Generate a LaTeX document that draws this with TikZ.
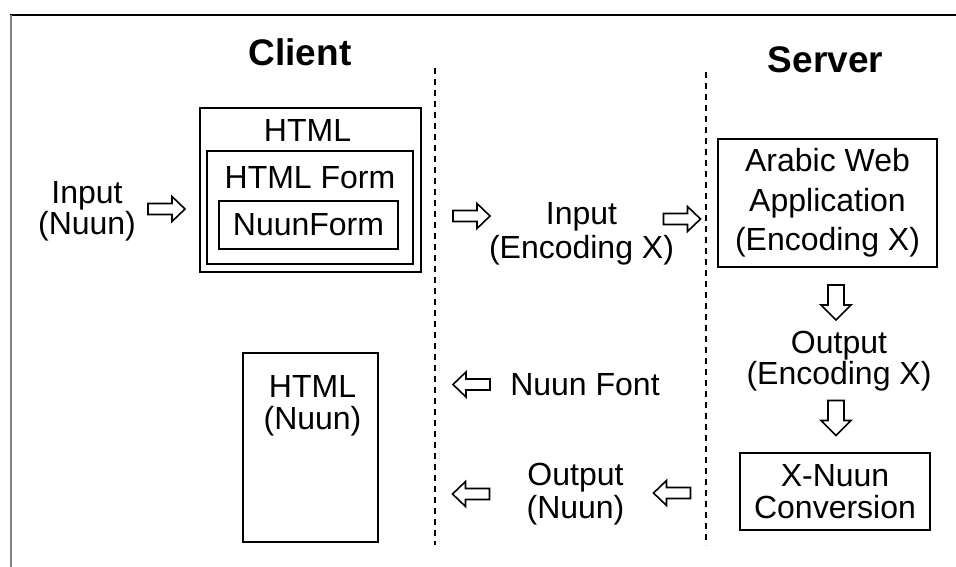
\documentclass[tikz,border=0pt]{standalone}
\usepackage{fontspec}
\setmainfont{Liberation Sans}
\usetikzlibrary{positioning}
\tikzset{
	box/.style={draw, line width=1.6pt, inner sep=0pt, align=center},
	lbl/.style={align=center, font=\fontsize{32}{33.5}\selectfont},
	heading/.style={font=\fontsize{37}{40}\selectfont\bfseries},
	divider/.style={line width=1.4pt, dash pattern=on 6pt off 5pt},
	harrow/.pic={\draw[line width=1.6pt, line join=miter] (-18.5,-5.5) -- (5.5,-5.5) -- (5.5,-12.5) -- (18.5,0) -- (5.5,12.5) -- (5.5,5.5) -- (-18.5,5.5) -- cycle;},
	varrow/.pic={\draw[line width=1.6pt, line join=miter] (-17.5,-8) -- (2.5,-8) -- (2.5,-15) -- (17.5,0) -- (2.5,15) -- (2.5,8) -- (-17.5,8) -- cycle;}
}

\begin{document}
\begin{tikzpicture}[x=1pt, y=-1pt]
			%%%%% START %%%%%
			\useasboundingbox (0,0) rectangle (956,567);
			\draw[line width=1.5pt] (10,15) -- (956,15);
			\draw[line width=2pt, gray] (11,15) -- (11,567);
			
			\node[heading] (client) at (300,52.5) {Client};
			\node[heading] (server) at (825.5,59.5) {Server};
			
			\draw[divider] (435,68) -- (435,545);
			\draw[divider] (706,72) -- (706,545);
			
			% client side
			\node[lbl, font=\fontsize{32}{26}\selectfont] (innuun) at (87,211.5) {Input\\(Nuun)};
			\pic at (166.5,209) {harrow};
			
			\node[box, minimum width=221pt, minimum height=164pt] (html) at (310.5,190) {};
			\node[lbl] (htmltxt) at (307.5,130) {HTML};
			\node[box, minimum width=206pt, minimum height=113pt] (form) at (310,207.5) {};
			\node[lbl] (formtxt) at (310,177.5) {HTML Form};
			\node[box, lbl, minimum width=179pt, minimum height=48pt] (nuunform) at (308.5,225) {NuunForm};
			
			\node[box, minimum width=135pt, minimum height=189pt] (htmlnuun) at (310.5,447.5) {};
			\node[lbl, font=\fontsize{32}{32}\selectfont] (htmlnuuntxt) at (312.5,406) {HTML\\(Nuun)};
			
			% between
			\pic at (471.5,216) {harrow};
			\node[lbl] (inenc) at (581.5,234) {Input\\(Encoding X)};
			\pic at (682,219) {harrow};
			
			\pic[rotate=180] at (471.5,384.5) {harrow};
			\node[lbl] (font) at (585,385) {Nuun Font};
			
			\pic[rotate=180] at (471,494) {harrow};
			\node[lbl] (outnuun) at (575.5,494) {Output\\(Nuun)};
			\pic[rotate=180] at (672,493) {harrow};
			
			% server side
			\node[box, lbl, font=\fontsize{32}{39.5}\selectfont, minimum width=219pt, minimum height=128pt] (app) at (827.5,203) {Arabic Web\\Application\\(Encoding X)};
			\pic[rotate=-90] at (836,302.5) {varrow};
			\node[lbl, font=\fontsize{32}{31.5}\selectfont] (outenc) at (839,361) {Output\\(Encoding X)};
			\pic[rotate=-90] at (836,418) {varrow};
			\node[box, lbl, font=\fontsize{32}{32.5}\selectfont, minimum width=190pt, minimum height=77pt] (conv) at (835,491.5) {X-Nuun\\Conversion};
			%%%%% END %%%%%
\end{tikzpicture}
\end{document}
